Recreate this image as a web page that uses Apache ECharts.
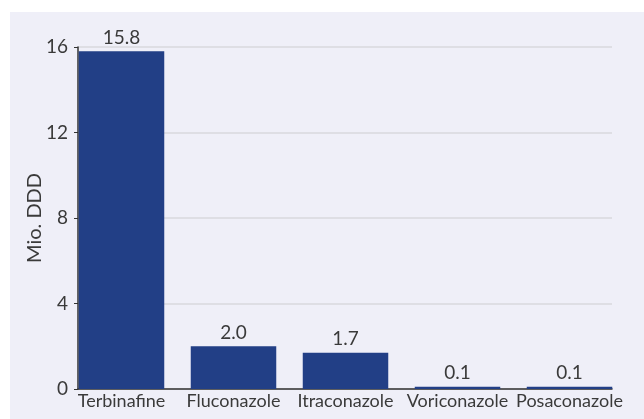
<!DOCTYPE html>
<html>
<head>
<meta charset="utf-8">
<script src="https://cdn.jsdelivr.net/npm/echarts@6/dist/echarts.min.js"></script>
<style>
  html, body { margin: 0; padding: 0; background: #fff; }
  #chart { width: 644px; height: 419px; }
</style>
</head>
<body>
<div id="chart"></div>
<script>
const categories = ['Terbinafine', 'Fluconazole', 'Itraconazole', 'Voriconazole', 'Posaconazole'];
const values = [15.8, 2.0, 1.7, 0.1, 0.1];
const yTicks = [0, 4, 8, 12, 16];

const chart = echarts.init(document.getElementById('chart'));
const font = 'Lato, sans-serif';
const textColor = '#3a3a3a';

chart.setOption({
  backgroundColor: '#fff',
  animation: false,
  graphic: [{
    type: 'rect', left: 10, top: 12, z: -10,
    shape: { width: 634, height: 407 },
    style: { fill: '#efeff8' }
  }],
  grid: [
    // axes + split lines
    { left: 78, right: 32, top: 47, bottom: 30 },
    // bars (wider so bars sit flush with the axis ends)
    { left: 65.5, right: 18.5, top: 47, bottom: 30 }
  ],
  xAxis: [
    {
      gridIndex: 0, type: 'category', data: categories,
      axisLine: { lineStyle: { color: '#333', width: 1.5 } },
      axisTick: { show: false }, axisLabel: { show: false }
    },
    {
      gridIndex: 1, type: 'category', data: categories,
      axisLine: { show: false }, axisTick: { show: false },
      axisLabel: { color: textColor, fontFamily: font, fontSize: 18, margin: 3, interval: 0 }
    }
  ],
  yAxis: [
    {
      gridIndex: 0, type: 'value', min: 0, max: 16, interval: 4,
      name: 'Mio. DDD', nameLocation: 'middle', nameGap: 33, nameMoveOverlap: false,
      nameTextStyle: { color: textColor, fontFamily: font, fontSize: 20 },
      axisLine: { show: true, lineStyle: { color: '#333', width: 1.5 } },
      axisTick: { show: true, length: 4, lineStyle: { color: '#333' } },
      axisLabel: { color: textColor, fontFamily: font, fontSize: 19, margin: 10,
        formatter: v => yTicks.includes(v) ? String(v) : '' },
      splitLine: { lineStyle: { color: '#d9d9de', width: 1.5 } }
    },
    { gridIndex: 1, type: 'value', min: 0, max: 16, show: false }
  ],
  series: [{
    type: 'bar',
    xAxisIndex: 1, yAxisIndex: 1,
    data: values,
    barWidth: 85.5,
    itemStyle: { color: '#223f86' },
    label: {
      show: true, position: 'top', distance: 4,
      color: textColor, fontFamily: font, fontSize: 19,
      formatter: p => p.value.toFixed(1)
    }
  }]
});
</script>
</body>
</html>
